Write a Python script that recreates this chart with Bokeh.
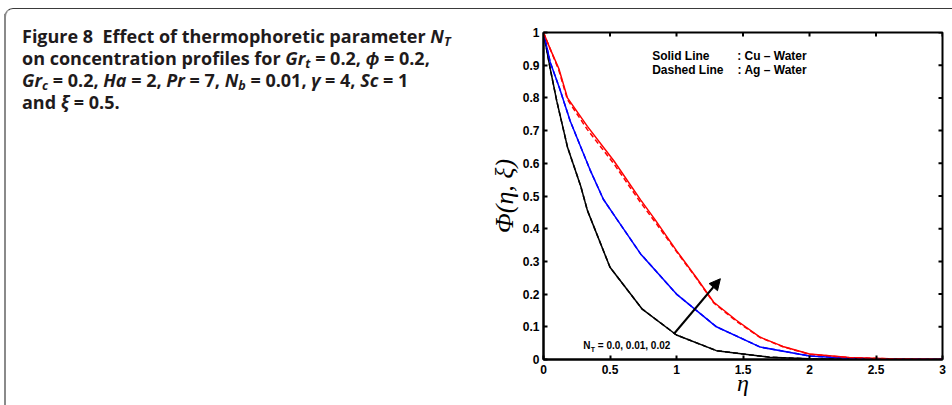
import math
from bokeh.plotting import figure
from bokeh.models import Div, Label, Arrow, NormalHead, FixedTicker, Range1d
from bokeh.layouts import row, column
from bokeh.embed import file_html
from bokeh.resources import INLINE

# ---- data ----
x_ticks = [0, 0.5, 1, 1.5, 2, 2.5, 3]
x_tick_labels = ["0", "0.5", "1", "1.5", "2", "2.5", "3"]
y_ticks = [0, 0.1, 0.2, 0.3, 0.4, 0.5, 0.6, 0.7, 0.8, 0.9, 1]
y_tick_labels = ["0", "0.1", "0.2", "0.3", "0.4", "0.5", "0.6", "0.7", "0.8", "0.9", "1"]

# N_T = 0.0 (black)
eta_nt0 = [0, 0.05, 0.1, 0.18, 0.28, 0.33, 0.5, 0.74, 1.0, 1.3, 1.5, 1.7, 2.0, 2.5, 3.0]
phi_cu_nt0 = [1, 0.89, 0.79, 0.65, 0.53, 0.456, 0.282, 0.155, 0.075, 0.027, 0.017, 0.007, 0.002, 0.0, 0.0]
phi_ag_nt0 = [1, 0.89, 0.79, 0.65, 0.53, 0.456, 0.282, 0.155, 0.075, 0.027, 0.017, 0.007, 0.002, 0.0, 0.0]

# N_T = 0.01 (blue)
eta_nt1 = [0, 0.05, 0.12, 0.2, 0.28, 0.35, 0.45, 0.55, 0.73, 1.0, 1.3, 1.63, 2.0, 2.3, 2.6, 3.0]
phi_cu_nt1 = [1, 0.91, 0.83, 0.73, 0.65, 0.58, 0.49, 0.43, 0.323, 0.20, 0.10, 0.038, 0.011, 0.004, 0.001, 0.0]
phi_ag_nt1 = [1, 0.91, 0.83, 0.73, 0.65, 0.58, 0.49, 0.43, 0.323, 0.20, 0.10, 0.038, 0.011, 0.004, 0.001, 0.0]

# N_T = 0.02 (red)
eta_nt2 = [0, 0.05, 0.115, 0.18, 0.33, 0.53, 0.73, 0.84, 1.0, 1.15, 1.28, 1.45, 1.63, 1.8, 2.0, 2.3, 2.6, 3.0]
phi_cu_nt2 = [1, 0.95, 0.89, 0.80, 0.713, 0.607, 0.488, 0.427, 0.333, 0.25, 0.175, 0.12, 0.068, 0.04, 0.017, 0.006, 0.002, 0.0]
phi_ag_nt2 = [1, 0.95, 0.885, 0.795, 0.703, 0.598, 0.48, 0.42, 0.33, 0.248, 0.173, 0.117, 0.067, 0.039, 0.016, 0.006, 0.002, 0.0]

TICK_FONT = "Liberation Sans"
SERIF = "Liberation Serif"

p = figure(width=466, height=390, x_range=Range1d(0, 3), y_range=Range1d(0, 1),
           output_backend="svg", toolbar_location=None,
           min_border_left=57, min_border_right=10, min_border_top=18, min_border_bottom=45,
           background_fill_color="white", border_fill_color="white")
p.outline_line_color = "black"
p.outline_line_width = 2
p.grid.visible = False

p.xaxis.ticker = FixedTicker(ticks=x_ticks)
p.xaxis.major_label_overrides = dict(zip(x_ticks, x_tick_labels))
p.yaxis.ticker = FixedTicker(ticks=y_ticks)
p.yaxis.major_label_overrides = dict(zip(y_ticks, y_tick_labels))

for ax in (p.xaxis[0], p.yaxis[0]):
    ax.axis_line_width = 2
    ax.major_tick_in = 4
    ax.major_tick_out = 0
    ax.major_tick_line_width = 2
    ax.minor_tick_line_color = None
    ax.major_label_text_font = TICK_FONT
    ax.major_label_text_font_style = "bold"
    ax.major_label_text_font_size = "12px"
    ax.major_label_text_color = "black"
    ax.axis_label_text_font = SERIF
    ax.axis_label_text_font_style = "italic"
    ax.axis_label_text_color = "black"
p.xaxis.major_label_standoff = 5
p.yaxis.major_label_standoff = 4
p.xaxis.axis_label = "η"
p.xaxis.axis_label_text_font_size = "24px"
p.xaxis.axis_label_standoff = -7
p.yaxis.axis_label = "Φ(η, ξ)"
p.yaxis.axis_label_text_font_size = "26px"
p.yaxis.axis_label_standoff = 1

# inward ticks on the top and right edges
p.scatter(x_ticks, [y_ticks[-1]] * len(x_ticks), marker="dash", angle=math.pi / 2,
          size=8, line_color="black", line_width=2)
p.scatter([x_ticks[-1]] * len(y_ticks), y_ticks, marker="dash",
          size=8, line_color="black", line_width=2)

LW = 1.5
p.line(eta_nt0, phi_cu_nt0, line_color="black", line_width=LW)
p.line(eta_nt1, phi_cu_nt1, line_color="#0000ff", line_width=LW)
p.line(eta_nt2, phi_cu_nt2, line_color="#ff0000", line_width=LW)
p.line(eta_nt0, phi_ag_nt0, line_color="black", line_width=LW, line_dash="5 3")
p.line(eta_nt1, phi_ag_nt1, line_color="#0000ff", line_width=LW, line_dash="5 3")
p.line(eta_nt2, phi_ag_nt2, line_color="#ff0000", line_width=LW, line_dash="5 3")

# legend-like notes
note_kw = dict(text_font=TICK_FONT, text_font_style="bold", text_font_size="12px",
               text_color="black", text_baseline="alphabetic")
p.add_layout(Label(x=0.817, y=0.9275, text="Solid Line", **note_kw))
p.add_layout(Label(x=1.456, y=0.9275, text=": Cu – Water", **note_kw))
p.add_layout(Label(x=0.817, y=0.886, text="Dashed Line", **note_kw))
p.add_layout(Label(x=1.459, y=0.886, text=": Ag – Water", **note_kw))

# N_T annotation
nt_kw = dict(text_font=TICK_FONT, text_font_style="bold", text_color="black",
             text_baseline="alphabetic")
p.add_layout(Label(x=0.298, y=0.0428, text="N", text_font_size="10px", **nt_kw))
p.add_layout(Label(x=0.298, y=0.0428, x_offset=7.5, y_offset=-4, text="T",
                   text_font_size="7px", **nt_kw))
p.add_layout(Label(x=0.408, y=0.0428, text="= 0.0, 0.01, 0.02", text_font_size="10px", **nt_kw))

p.add_layout(Arrow(end=NormalHead(size=11, fill_color="black", line_color="black"),
                   x_start=0.98, y_start=0.078, x_end=1.33, y_end=0.247,
                   line_color="black", line_width=2))

# page frame (top line with rounded corner) and caption
top_html = ('<div style="padding-left:4px;padding-top:8px;">'
            '<div style="height:30px;width:960px;border-top:1px solid #3a3a3a;'
            'border-left:2px solid #8a8a8a;border-top-left-radius:9px;"></div></div>')
top_div = Div(text=top_html, width=952, height=14, margin=(0, 0, 0, 0))

sub = '<span style="font-size:0.7em;line-height:1;position:relative;top:0.25em;">'
line_style = 'height:22px;line-height:22px;white-space:nowrap;'
lines_html = [
    'Figure 8&nbsp; Effect of thermophoretic parameter <i>N' + sub + 'T</span></i>',
    'on concentration profiles for <i>Gr' + sub + 't</span></i> = 0.2, <i>ϕ</i> = 0.2,',
    '<i>Gr' + sub + 'c</span></i> = 0.2, <i>Ha</i> = 2, <i>Pr</i> = 7, <i>N' + sub + 'b</span></i> = 0.01, '
    '<i>γ</i> = 4, <i>Sc</i> = 1',
    'and <i>ξ</i> = 0.5.',
]
caption = (
    '<div style="margin-left:4px;border-left:2px solid #8a8a8a;height:391px;box-sizing:border-box;'
    'padding-left:16px;padding-top:11px;font-family:\'Open Sans\',sans-serif;font-weight:bold;'
    'font-size:18px;color:#1f1b1c;">'
    + ''.join('<div style="' + line_style + '">' + t + '</div>' for t in lines_html)
    + '</div>'
)
div = Div(text=caption, width=486, height=390, margin=(0, 0, 0, 0))

layout = column(top_div, row(div, p))

open("out.html", "w").write(file_html(layout, INLINE))
